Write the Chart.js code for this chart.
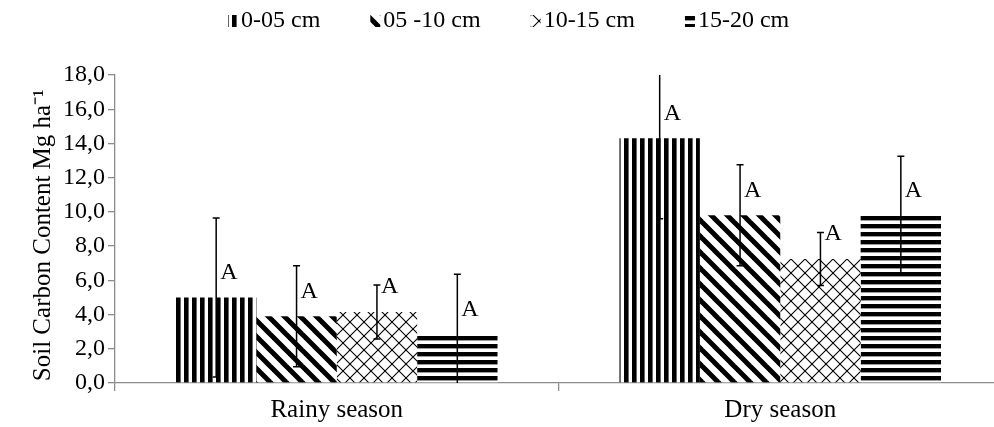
<!DOCTYPE html>
<html>
<head>
<meta charset="utf-8">
<script src="https://cdn.jsdelivr.net/npm/chart.js@4.4.1/dist/chart.umd.min.js"></script>
<style>
  html, body { margin: 0; padding: 0; background: #fff; overflow: hidden; }
  #wrap { width: 1002px; height: 427px; position: relative; }
</style>
</head>
<body>
<div id="wrap"><canvas id="grafico"></canvas></div>
<script>
// Dados
const categorias = ['Rainy season', 'Dry season'];
const camadas = ['0-05 cm', '05 -10 cm', '10-15 cm', '15-20 cm'];
const carbono0005 = [5.0, 14.3];
const carbono0510 = [3.9, 9.8];
const carbono1015 = [4.15, 7.25];
const carbono1520 = [2.8, 9.8];
const erro0005 = [4.65, 4.7];
const erro0510 = [2.95, 2.95];
const erro1015 = [1.58, 1.55];
const erro1520 = [3.55, 3.45];
const letras0005 = ['A', 'A'];
const letras0510 = ['A', 'A'];
const letras1015 = ['A', 'A'];
const letras1520 = ['A', 'A'];
const yTicks = [0, 2, 4, 6, 8, 10, 12, 14, 16, 18];

const fonte = '"Liberation Serif", "Times New Roman", serif';
const cinza = '#8c8c8c';

// Texturas das barras
function criarTextura(tam, desenhar) {
    const c = document.createElement('canvas');
    c.width = tam; c.height = tam;
    const g = c.getContext('2d');
    g.fillStyle = '#fff';
    g.fillRect(0, 0, tam, tam);
    desenhar(g, tam);
    return document.createElement('canvas').getContext('2d').createPattern(c, 'repeat');
}

const texVertical = criarTextura(8, (g, t) => {
    g.fillStyle = '#000';
    g.fillRect(0, 0, 4.6, t);
});
const texDiagonal = criarTextura(16, (g, t) => {
    g.strokeStyle = '#000';
    g.lineWidth = 5;
    for (let k = -1; k <= 1; k++) {
        g.beginPath();
        g.moveTo(k * t - 2, -2);
        g.lineTo(k * t + t + 2, t + 2);
        g.stroke();
    }
});
const texCruzada = criarTextura(14, (g, t) => {
    g.strokeStyle = '#000';
    g.lineWidth = 1.1;
    for (let k = -1; k <= 1; k++) {
        g.beginPath();
        g.moveTo(k * t, 0);
        g.lineTo(k * t + t, t);
        g.stroke();
        g.beginPath();
        g.moveTo(k * t + t, 0);
        g.lineTo(k * t, t);
        g.stroke();
    }
});
const texHorizontal = criarTextura(8, (g, t) => {
    g.fillStyle = '#000';
    g.fillRect(0, 0, t, 4.4);
});

const series = [
    { valores: carbono0005, erros: erro0005, letras: letras0005, textura: texVertical },
    { valores: carbono0510, erros: erro0510, letras: letras0510, textura: texDiagonal },
    { valores: carbono1015, erros: erro1015, letras: letras1015, textura: texCruzada },
    { valores: carbono1520, erros: erro1520, letras: letras1520, textura: texHorizontal }
];

// Barras de erro e letras
const pluginErros = {
    id: 'erros',
    afterDatasetsDraw(chart) {
        const ctx = chart.ctx;
        const y = chart.scales.y;
        ctx.save();
        series.forEach((s, i) => {
            const meta = chart.getDatasetMeta(i);
            meta.data.forEach((barra, j) => {
                const x = barra.x;
                const v = s.valores[j];
                const e = s.erros[j];
                const ySup = y.getPixelForValue(Math.min(v + e, y.max));
                const yInf = y.getPixelForValue(Math.max(v - e, 0));
                ctx.strokeStyle = '#000';
                ctx.lineWidth = 1.5;
                ctx.beginPath();
                ctx.moveTo(x, ySup);
                ctx.lineTo(x, yInf);
                if (v + e <= y.max) { ctx.moveTo(x - 3.5, ySup); ctx.lineTo(x + 3.5, ySup); }
                if (v - e >= 0) { ctx.moveTo(x - 3.5, yInf); ctx.lineTo(x + 3.5, yInf); }
                ctx.stroke();
                ctx.fillStyle = '#000';
                ctx.font = '24px ' + fonte;
                ctx.textAlign = 'left';
                ctx.textBaseline = 'middle';
                ctx.fillText(s.letras[j], x + 4, y.getPixelForValue(v) - 25);
            });
        });
        ctx.restore();
    }
};

// Legenda desenhada à mão (caixas pequenas com textura)
const pluginLegenda = {
    id: 'legendaManual',
    afterDraw(chart) {
        const ctx = chart.ctx;
        ctx.save();
        ctx.font = '24px ' + fonte;
        ctx.textBaseline = 'middle';
        ctx.textAlign = 'left';
        let x = 228;
        const yc = 21;
        camadas.forEach((nome, i) => {
            ctx.fillStyle = series[i].textura;
            ctx.fillRect(x, yc - 6, 10, 12);
            ctx.fillStyle = '#000';
            ctx.fillText(nome, x + 13, yc);
            x += 13 + ctx.measureText(nome).width + 50;
        });
        ctx.restore();
    }
};

const ctxGrafico = document.getElementById('grafico').getContext('2d');
const grafico = new Chart(ctxGrafico, {
    type: 'bar',
    data: {
        labels: categorias,
        datasets: series.map((s, i) => ({
            label: camadas[i],
            data: s.valores,
            backgroundColor: s.textura,
            borderWidth: 0,
            barPercentage: 1,
            categoryPercentage: 0.725
        }))
    },
    options: {
        responsive: true,
        maintainAspectRatio: false,
        animation: false,
        layout: { padding: { top: 75, right: 0, bottom: 0, left: 0 } },
        plugins: {
            legend: { display: false },
            tooltip: { enabled: false }
        },
        scales: {
            x: {
                afterFit: (scale) => { scale.height = 44; },
                border: { color: cinza, width: 1.3 },
                grid: { drawOnChartArea: false, tickLength: 8, color: cinza, lineWidth: 1.3, offset: true },
                ticks: { color: '#000', padding: 4, font: { family: fonte, size: 25 } }
            },
            y: {
                min: 0,
                max: 18,
                afterFit: (scale) => { scale.width = 115; },
                afterBuildTicks: (scale) => { scale.ticks = yTicks.map(v => ({ value: v })); },
                border: { color: cinza, width: 1.3 },
                grid: { drawOnChartArea: false, tickLength: 7, color: cinza, lineWidth: 1.3 },
                ticks: {
                    color: '#000',
                    padding: 3,
                    font: { family: fonte, size: 24 },
                    callback: (v) => v.toFixed(1).replace('.', ',')
                },
                title: {
                    display: true,
                    text: 'Soil Carbon Content Mg ha\u207B\u00B9  ',
                    color: '#000',
                    font: { family: fonte, size: 25 },
                    padding: { top: 28, bottom: 0 }
                }
            }
        }
    },
    plugins: [pluginErros, pluginLegenda]
});
</script>
</body>
</html>
